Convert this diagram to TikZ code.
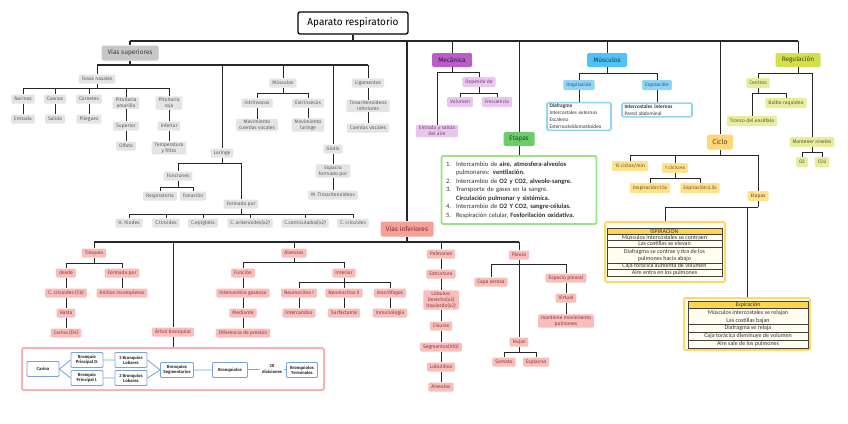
\documentclass[tikz,border=0pt]{standalone}
\usepackage{fontspec}
\setmainfont{Fira Sans}
\newfontfamily\calib{Carlito}
\usepackage{xcolor}
\usepackage{tikz}
\definecolor{ink}{HTML}{262626}
\definecolor{supfill}{HTML}{C8C8C8}
\definecolor{suptext}{HTML}{3A3A3A}
\definecolor{greyfill}{HTML}{E4E4E4}
\definecolor{greytext}{HTML}{5C5C5C}
\definecolor{infdark}{HTML}{F5A097}
\definecolor{inftext}{HTML}{7A2A24}
\definecolor{pinkfill}{HTML}{F8BEBC}
\definecolor{pinktext}{HTML}{8A3936}
\definecolor{mecdark}{HTML}{B95DC9}
\definecolor{mectext}{HTML}{3B1243}
\definecolor{meclight}{HTML}{E8C6EE}
\definecolor{mecltext}{HTML}{74457C}
\definecolor{musdark}{HTML}{4FC3F7}
\definecolor{mustext}{HTML}{0D3B57}
\definecolor{muslight}{HTML}{90D4F6}
\definecolor{musltext}{HTML}{1E5A7E}
\definecolor{regdark}{HTML}{D4DF4C}
\definecolor{regtext}{HTML}{45460F}
\definecolor{reglight}{HTML}{E7ED9D}
\definecolor{regltext}{HTML}{5B5C22}
\definecolor{cicdark}{HTML}{FFD77A}
\definecolor{cictext}{HTML}{5C4300}
\definecolor{ciclight}{HTML}{FFE18E}
\definecolor{cicltext}{HTML}{6B5410}
\definecolor{etadark}{HTML}{6CCB6A}
\definecolor{etatext}{HTML}{1D4A1D}
\definecolor{etaline}{HTML}{9AE483}
\definecolor{bronq}{HTML}{7C9FDD}
\definecolor{bfrpink}{HTML}{F7B3B1}
\definecolor{tabyel}{HTML}{FFD966}
\definecolor{tabbg}{HTML}{FFFCF0}
\definecolor{tabhead}{HTML}{FFD54F}
\definecolor{body}{HTML}{333333}
\tikzset{
  lnk/.style={draw=ink, line width=0.8pt},
  mid/.style={draw=ink, line width=1.1pt},
  trunk/.style={draw=ink, line width=1.6pt},
  box/.style={rounded corners=1.2pt, inner xsep=3pt, inner ysep=1.2pt, minimum height=9pt, align=center, font=\fontsize{5}{6}\selectfont},
  gry/.style={box, fill=greyfill, text=greytext},
  pnk/.style={box, fill=pinkfill, text=pinktext},
  mecl/.style={box, fill=meclight, text=mecltext, minimum height=10pt},
  musl/.style={box, fill=muslight, text=musltext, minimum height=10pt},
  regl/.style={box, fill=reglight, text=regltext, minimum height=10pt},
  cicl/.style={box, fill=ciclight, text=cicltext, minimum height=10pt},
  hd/.style={rounded corners=1.5pt, inner xsep=4pt, minimum height=14pt, font=\fontsize{6.5}{8}\selectfont},
  titbox/.style={draw=black, line width=1.3pt, fill=white, rounded corners=2pt, minimum width=110pt, minimum height=22pt, font=\fontsize{10}{12}\selectfont},
  lst/.style={fill=white, rounded corners=1.5pt, align=left, text=body},
  bnode/.style={draw=bronq, line width=0.8pt, fill=white, rounded corners=1pt, align=center, minimum width=32pt, minimum height=15pt, inner sep=1pt, font=\fontsize{4.3}{5.3}\selectfont\bfseries, text=body},
  blnk/.style={draw=bronq, line width=0.8pt},
  tabfr/.style={draw=tabyel, line width=2pt, fill=tabbg, rounded corners=2pt, inner sep=0pt},
  tabln/.style={draw=black!75, line width=0.4pt},
  tabtx/.style={inner sep=0pt, font=\calib\fontsize{6}{7}\selectfont, text=body, align=center}
}

\begin{document}
\begin{tikzpicture}[x=1pt, y=-1pt]
  \useasboundingbox (0,0) rectangle (848,423);
  \fill[white] (0,0) rectangle (848,423);

  \node[titbox] (apr) at (353,23) {Aparato respiratorio};

  % vias superiores
  \node[hd, fill=supfill, text=suptext, minimum width=57pt, minimum height=15pt] (vsu) at (130,53) {Vías superiores};
  \node[gry] (fos) at (97,79) {Fosas nasales};
  \node[gry] (nar) at (23,99) {Narinas};
  \node[gry] (coa) at (55,99) {Coanas};
  \node[gry] (cor) at (89,99) {Cornetes};
  \node[gry] (pam) at (126,103) {Pituitaria\\amarilla};
  \node[gry] (pro) at (169,103) {Pituitaria\\roja};
  \node[gry] (ent) at (23,119) {Entrada};
  \node[gry] (sal) at (55,119) {Salida};
  \node[gry] (ple) at (89,119) {Pliegues};
  \node[gry] (supr) at (126,126) {Superior};
  \node[gry] (infr) at (169,126) {Inferior};
  \node[gry] (olf) at (126,146) {Olfato};
  \node[gry] (tem) at (169,148) {Temperatura\\y filtro};

  \node[gry] (lar) at (222,153) {Laringe};
  \node[gry] (fun) at (178,176) {Funciones};
  \node[gry] (res) at (160,196) {Respiratoria};
  \node[gry] (fon) at (193,196) {Fonación};
  \node[gry] (frm) at (241,204) {Formada por};
  \node[gry] (hio) at (129,223) {H. hiodes};
  \node[gry] (tir) at (166,223) {C.tiroides};
  \node[gry] (epi) at (203,223) {C.epiglotis};
  \node[gry] (ari) at (250,223) {C. aritenoides(x2)};
  \node[gry] (crn) at (305,223) {C.corniculados(x2)};
  \node[gry] (cri) at (353,223) {C. cricoides};

  \node[gry] (musu) at (283,83) {Músculos};
  \node[gry] (intr) at (257,103) {Intrínsecos};
  \node[gry] (extr) at (308,103) {Extrínsecos};
  \node[gry] (mcv) at (257,125) {Movimiento\\cuerdas vocales};
  \node[gry] (mla) at (308,125) {Movimiento\\laringe};
  \node[gry] (glo) at (333,149) {Glotis};
  \node[gry] (esp) at (333,171) {Espacio\\formado por};
  \node[gry] (mti) at (333,195) {M. Tiroaritenoideos};
  \node[gry] (lig) at (368,83) {Ligamentos};
  \node[gry] (tii) at (368,106) {Tiroaritenoideos\\inferiores};
  \node[gry] (cvo) at (368,128) {Cuerdas vocales};

  % mecanica, etapas, musculos
  \node[hd, fill=mecdark, text=mectext, minimum width=40pt] (mec) at (452,60) {Mecánica};
  \node[mecl] (dep) at (479,82) {Depende de};
  \node[mecl] (vol) at (460,102) {Volumen};
  \node[mecl] (fre) at (497,102) {Frecuencia};
  \node[mecl] (ens) at (437,131) {Entrada y salida\\del aire};

  \node[hd, fill=etadark, text=etatext, minimum width=31pt] (eta) at (519,139) {Etapas};
  \node[lst, draw=etaline, line width=1.8pt, text width=146pt, inner xsep=4.5pt, minimum height=68pt, font=\calib\fontsize{6.6}{8.5}\selectfont] (etl) at (519,190) {\begin{tabular}{@{}r@{\hspace{5pt}}l@{}}
    1. & Intercambio de \textbf{aire, atmosfera-alveolos}\\
       & pulmonares: \textbf{ventilación.}\\
    2. & Intercambio de \textbf{O2 y CO2, alveolo-sangre.}\\
    3. & Transporte de gases en la sangre.\\
       & \textbf{Circulación pulmonar y sistémica.}\\
    4. & Intercambio de \textbf{O2 Y CO2, sangre-células.}\\
    5. & Respiración celular, \textbf{Fosforilación oxidativa.}
  \end{tabular}};

  \node[hd, fill=musdark, text=mustext, minimum width=40pt] (musr) at (607,60) {Músculos};
  \node[musl] (ins) at (579,85) {Inspiración};
  \node[musl] (exs) at (657,85) {Expiración};
  \node[lst, draw=muslight, line width=1.6pt, text width=59pt, inner xsep=2.5pt, inner ysep=1.5pt, font=\calib\fontsize{5.3}{7}\selectfont] (insl) at (579,116.5) {\textbf{Diafragma}\\Intercostales externos\\Escaleno\\Esternocleidomastoideo};
  \node[lst, draw=muslight, line width=1.6pt, text width=65pt, inner xsep=2.5pt, inner ysep=1.5pt, font=\calib\fontsize{5.3}{7}\selectfont] (exsl) at (657,110) {\textbf{Intercostales internos}\\Pared abdominal};

  % regulacion
  \node[hd, fill=regdark, text=regtext, minimum width=45pt] (reg) at (798,60) {Regulación};
  \node[regl] (cen) at (758,83) {Centros};
  \node[regl] (bul) at (786,103) {Bulbo raquídeo};
  \node[regl] (tro) at (752,121) {Tronco del encéfalo};
  \node[regl] (man) at (812,142) {Mantener niveles};
  \node[regl] (o2) at (802,162) {O2};
  \node[regl] (co2) at (822,162) {CO2};

  % ciclo
  \node[hd, fill=cicdark, text=cictext, minimum width=26pt, minimum height=15pt, font=\fontsize{7}{8}\selectfont] (cic) at (720,142) {Ciclo};
  \node[cicl] (c15) at (630,166) {15 ciclos/min};
  \node[cicl] (c1) at (675,168) {1 ciclo:4s};
  \node[cicl] (ci15) at (650,188) {Inspiración:1.5s};
  \node[cicl] (ce25) at (700,188) {Espiración:2.5s};
  \node[cicl] (cet) at (758,196) {Etapas};

  \node[tabfr, minimum width=120pt, minimum height=60pt] (tabi) at (665,252) {};
  \fill[tabhead] (607,228) rectangle (722,234);
  \draw[tabln] (607,228) rectangle (722,276);
  \draw[tabln] (607,234) -- (722,234) (607,240.5) -- (722,240.5) (607,247) -- (722,247) (607,263) -- (722,263) (607,269) -- (722,269);
  \node[tabtx] (i0) at (664.5,231) {ISPIRACIÓN};
  \node[tabtx] (i1) at (664.5,237.3) {Músculos intercostales se contraen};
  \node[tabtx] (i2) at (664.5,243.8) {Las costillas se elevan};
  \node[tabtx] (i3) at (664.5,255) {Diafragma se contrae y tira de los\\pulmones hacia abajo};
  \node[tabtx] (i4) at (664.5,266) {Caja torácica aumenta de volumen};
  \node[tabtx] (i5) at (664.5,272.5) {Aire entra en los pulmones};

  \node[tabfr, minimum width=126pt, minimum height=52pt] (tabe) at (747,324) {};
  \fill[tabhead] (688,301) rectangle (808,308);
  \draw[tabln] (688,301) rectangle (808,348);
  \draw[tabln] (688,308) -- (808,308) (688,324) -- (808,324) (688,332) -- (808,332) (688,340) -- (808,340);
  \node[tabtx] (e0) at (748,304.5) {Espiración};
  \node[tabtx] (e1) at (748,313) {Músculos intercostales se relajan};
  \node[tabtx] (e2) at (748,320.5) {Las costillas bajan};
  \node[tabtx] (e3) at (748,328) {Diafragma se relaja};
  \node[tabtx] (e4) at (748,336) {Caja torácica disminuye de volumen};
  \node[tabtx] (e5) at (748,344) {Aire sale de los pulmones};

  % vias inferiores
  \node[hd, fill=infdark, text=inftext, minimum width=53pt, minimum height=15pt] (vin) at (407,229) {Vías inferiores};
  \node[pnk] (tra) at (94,253) {Tráquea};
  \node[pnk] (des) at (66,273) {desde};
  \node[pnk] (fpo) at (122,273) {Formada por};
  \node[pnk] (ccr) at (66,293) {C. cricoides (C6)};
  \node[pnk] (ani) at (122,293) {Anillos incompletos};
  \node[pnk] (has) at (66,313) {Hasta};
  \node[pnk] (car) at (66,333) {Carina (D4)};
  \node[pnk] (arb) at (173,332) {Árbol bronquial};

  \node[pnk] (alv) at (294,253) {Alveolos};
  \node[pnk] (fnc) at (243,273) {Función};
  \node[pnk] (inte) at (344,273) {Interior};
  \node[pnk] (igs) at (243,293) {Intercambio gaseoso};
  \node[pnk] (med) at (243,313) {Mediante};
  \node[pnk] (dpr) at (243,333) {Diferencia de presión};
  \node[pnk] (ne1) at (299,293) {Neumocitos I};
  \node[pnk] (ne2) at (344,293) {Neumocitos II};
  \node[pnk] (mac) at (390,293) {macrófagos};
  \node[pnk] (icb) at (299,313) {Intercambio};
  \node[pnk] (sur) at (344,313) {Surfactante};
  \node[pnk] (inm) at (390,313) {Inmunología};

  \node[pnk] (pul) at (441,254) {Pulmones};
  \node[pnk] (est) at (441,274) {Estructura};
  \node[pnk] (lob) at (441,300) {Lóbulos:\\Derecho(x3)\\Izquierdo(x2)};
  \node[pnk] (cis) at (441,326) {Cisuras};
  \node[pnk] (seg) at (441,347) {Segmentos(X10)};
  \node[pnk] (lbl) at (441,367) {Lobulillos};
  \node[pnk] (alp) at (441,387) {Alveolos};

  \node[pnk] (plu) at (519,255) {Pleura};
  \node[pnk] (cap) at (491,282) {Capa serosa};
  \node[pnk] (epl) at (566,278) {Espacio pleural};
  \node[pnk] (vir) at (566,298) {Virtual};
  \node[pnk] (mmp) at (566,321) {mantiene movimiento\\pulmones};
  \node[pnk] (hoj) at (519,342) {Hojas};
  \node[pnk] (som) at (504,362) {Somato};
  \node[pnk] (spl) at (536,362) {Esplacno};

  % arbol bronquial
  \node[draw=bfrpink, line width=2pt, fill=white, rounded corners=2pt, inner sep=0pt, minimum width=302pt, minimum height=42pt] (bfr) at (173,369) {};
  \node[bnode] (bca) at (43,369) {Carina};
  \node[bnode] (bpd) at (87,360) {Bronquio\\Principal D.};
  \node[bnode] (bpi) at (87,378) {Bronquio\\Principal I.};
  \node[bnode] (bl3) at (131,360) {3 Bronquios\\Lobares};
  \node[bnode] (bl2) at (131,378) {2 Bronquios\\Lobares};
  \node[bnode, minimum width=33pt] (bseg) at (177,370) {Bronquios\\Segmentarios};
  \node[bnode, minimum width=35pt] (bqlos) at (230,370) {Bronquiolos};
  \node[inner sep=2pt, align=center, font=\fontsize{4.3}{5.3}\selectfont\bfseries, text=body] (bdiv) at (272,369) {30\\divisiones};
  \node[bnode, minimum width=31pt] (bter) at (302,370) {Bronquiolos\\Terminales};

  % conectores
  \coordinate (topb) at (353,41);
  \draw[trunk] (apr.south) -- (topb);
  \draw[trunk] (vsu.north |- topb) -- (reg.north |- topb);
  \draw[trunk] (vsu.north |- topb) -- (vsu.north);
  \draw[trunk] (vin.north |- topb) -- (vin.north);
  \draw[lnk] (mec.north |- topb) -- (mec.north) (eta.north |- topb) -- (eta.north) (musr.north |- topb) -- (musr.north) (cic.north |- topb) -- (cic.north) (reg.north |- topb) -- (reg.north);

  \coordinate (vsub) at (130,65);
  \draw[trunk] (vsu.south) -- (vsub);
  \draw[trunk] (fos.north |- vsub) -- (lig.north |- vsub);
  \draw[lnk] (fos.north |- vsub) -- (fos.north) (lar.north |- vsub) -- (lar.north) (musu.north |- vsub) -- (musu.north) (glo.north |- vsub) -- (glo.north) (lig.north |- vsub) -- (lig.north);

  \coordinate (fosb) at (97,88);
  \draw[lnk] (fos.south) -- (fosb) (fosb) -| (nar.north) (fosb) -| (coa.north) (fosb) -| (cor.north) (fosb) -| (pam.north) (fosb) -| (pro.north);
  \draw[lnk] (nar) -- (ent) (coa) -- (sal) (cor) -- (ple) (pam) -- (supr) (supr) -- (olf) (pro) -- (infr) (infr) -- (tem);

  \coordinate (larb) at (222,163);
  \draw[lnk] (lar.south) -- (larb) (larb) -| (fun.north) (larb) -| (frm.north);
  \coordinate (funb) at (178,187);
  \draw[lnk] (fun.south) -- (funb) (funb) -| (res.north) (funb) -| (fon.north);
  \coordinate (frmb) at (241,214);
  \draw[lnk] (frm.south) -- (frmb) (frmb) -| (hio.north) (frmb) -| (tir.north) (frmb) -| (epi.north) (frmb) -| (ari.north) (frmb) -| (crn.north) (frmb) -| (cri.north);

  \coordinate (musub) at (283,93);
  \draw[lnk] (musu.south) -- (musub) (musub) -| (intr.north) (musub) -| (extr.north);
  \draw[lnk] (intr) -- (mcv) (extr) -- (mla) (glo) -- (esp) (esp) -- (mti) (lig) -- (tii) (tii) -- (cvo);

  \coordinate (mecb) at (452,72);
  \draw[lnk] (mec.south) -- (mecb) (mecb) -| (ens.north) (mecb) -| (dep.north);
  \coordinate (depb) at (479,93);
  \draw[lnk] (dep.south) -- (depb) (depb) -| (vol.north) (depb) -| (fre.north);
  \draw[lnk] (eta) -- (etl);

  \coordinate (musb) at (607,73);
  \draw[lnk] (musr.south) -- (musb) (musb) -| (ins.north) (musb) -| (exs.north);
  \draw[lnk] (ins) -- (insl) (exs) -- (exsl);

  \coordinate (regb) at (798,73);
  \draw[lnk] (reg.south) -- (regb) (regb) -| (cen.north) (regb) -| (man.north);
  \coordinate (cenb) at (758,93);
  \draw[lnk] (cen.south) -- (cenb) (cenb) -| (tro.north) (cenb) -| (bul.north);
  \coordinate (manb) at (812,152);
  \draw[lnk] (man.south) -- (manb) (manb) -| (o2.north) (manb) -| (co2.north);

  \coordinate (cicb) at (720,155);
  \draw[lnk] (cic.south) -- (cicb) (cicb) -| (c15.north) (cicb) -| (c1.north) (cicb) -| (cet.north);
  \coordinate (c1b) at (675,178);
  \draw[lnk] (c1.south) -- (c1b) (c1b) -| (ci15.north) (c1b) -| (ce25.north);
  \coordinate (cetb) at (758,207);
  \draw[lnk] (cet.south) -- (cetb) (cetb) -| (tabi.north) (cetb) -| (tabe.north);

  \coordinate (vinb) at (407,242);
  \draw[mid] (vin.south) -- (vinb);
  \draw[mid] (tra.north |- vinb) -- (plu.north |- vinb);
  \draw[lnk] (tra.north |- vinb) -- (tra.north) (arb.north |- vinb) -- (arb.north) (alv.north |- vinb) -- (alv.north) (pul.north |- vinb) -- (pul.north) (plu.north |- vinb) -- (plu.north);

  \coordinate (trab) at (94,263);
  \draw[lnk] (tra.south) -- (trab) (trab) -| (des.north) (trab) -| (fpo.north);
  \draw[lnk] (des) -- (ccr) (ccr) -- (has) (has) -- (car) (fpo) -- (ani);
  \draw[lnk] (arb) -- (bfr);

  \coordinate (alvb) at (294,262);
  \draw[lnk] (alv.south) -- (alvb) (alvb) -| (fnc.north) (alvb) -| (inte.north);
  \draw[lnk] (fnc) -- (igs) (igs) -- (med) (med) -- (dpr);
  \coordinate (inteb) at (344,282);
  \draw[lnk] (inte.south) -- (inteb) (inteb) -| (ne1.north) (inteb) -| (ne2.north) (inteb) -| (mac.north);
  \draw[lnk] (ne1) -- (icb) (ne2) -- (sur) (mac) -- (inm);

  \draw[lnk] (pul) -- (est) (est) -- (lob) (lob) -- (cis) (cis) -- (seg) (seg) -- (lbl) (lbl) -- (alp);

  \coordinate (plub) at (519,264);
  \draw[lnk] (plu.south) -- (plub) (plub) -| (cap.north) (plub) -| (epl.north) (plub) -- (hoj.north);
  \draw[lnk] (epl) -- (vir) (vir) -- (mmp);
  \coordinate (hojb) at (519,352);
  \draw[lnk] (hoj.south) -- (hojb) (hojb) -| (som.north) (hojb) -| (spl.north);

  \draw[blnk] (bca.east) -- (bpd.west) (bca.east) -- (bpi.west) (bpd) -- (bl3) (bpi) -- (bl2) (bl3.east) -- (bseg.west) (bl2.east) -- (bseg.west) (bseg) -- (bqlos) (bqlos) -- (bdiv) (bdiv) -- (bter);
\end{tikzpicture}
\end{document}
